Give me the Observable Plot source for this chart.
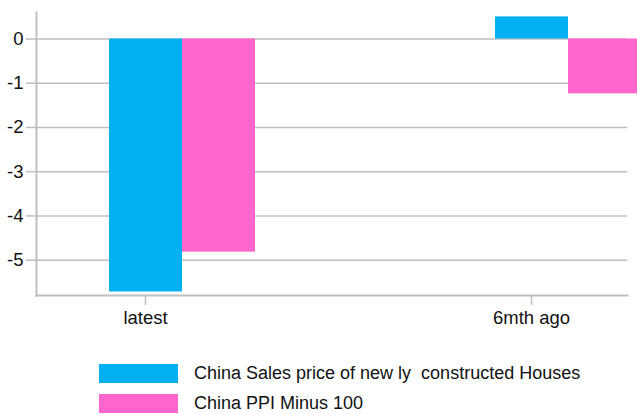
<!DOCTYPE html>
<html>
<head>
<meta charset="utf-8">
<script src="https://cdn.jsdelivr.net/npm/d3@7"></script>
<script src="https://cdn.jsdelivr.net/npm/@observablehq/plot@0.6"></script>
<style>
  html, body { margin: 0; padding: 0; background: #fff; overflow: hidden; }
  body { width: 637px; height: 414px; font-family: "Liberation Sans", Arial, sans-serif; }
  #chart svg { display: block; }
  .legend { position: absolute; left: 99px; top: 358px; font-size: 18px; color: #111; }
  .row { display: flex; align-items: center; height: 30px; }
  .sw { width: 79px; height: 19px; margin-right: 16px; }
</style>
</head>
<body>
<div id="chart"></div>
<div class="legend" id="legend"></div>
<script>
const categories = ["latest", "6mth ago"];
const seriesNames = ["China Sales price of new ly  constructed Houses", "China PPI Minus 100"];
const salesPrice = [-5.72, 0.5];
const ppiMinus100 = [-4.82, -1.24];
const yTicks = [0, -1, -2, -3, -4, -5];
const colors = ["#00b0f0", "#ff66cc"];

const dataA = categories.map((c, i) => ({cat: c, value: salesPrice[i]}));
const dataB = categories.map((c, i) => ({cat: c, value: ppiMinus100[i]}));

const grid = "#bfbfbf";
const chart = Plot.plot({
  width: 637,
  height: 340,
  marginLeft: 36,
  marginRight: 10,
  marginTop: 12,
  marginBottom: 45,
  style: {fontFamily: "'Liberation Sans', Arial, sans-serif", fontSize: "18.5px", color: "#111", background: "#fff"},
  x: {domain: categories, range: [-11, 761], paddingInner: 0.6218, paddingOuter: 0.3109},
  y: {domain: [-5.8, 0.6]},
  marks: [
    Plot.gridY(yTicks, {stroke: grid, strokeOpacity: 1, strokeWidth: 1.5}),
    Plot.barY(dataA, {x: "cat", y: "value", fill: colors[0], insetRight: 73}),
    Plot.barY(dataB, {x: "cat", y: "value", fill: colors[1], insetLeft: 73}),
    Plot.frame({anchor: "left", stroke: grid, strokeWidth: 2}),
    Plot.frame({anchor: "bottom", stroke: grid, strokeWidth: 2}),
    Plot.axisY(yTicks, {tickFormat: d => String(d), tickSize: 10, tickPadding: 3, stroke: grid, strokeWidth: 1.5, fill: "#111", label: null}),
    Plot.axisX({tickSize: 10, tickPadding: 5, stroke: grid, strokeWidth: 1.5, fill: "#111", label: null, dx: -37})
  ]
});
document.getElementById("chart").appendChild(chart);

const legend = document.getElementById("legend");
seriesNames.forEach((name, i) => {
  const row = document.createElement("div");
  row.className = "row";
  const sw = document.createElement("div");
  sw.className = "sw";
  sw.style.background = colors[i];
  const t = document.createElement("span");
  t.style.whiteSpace = "pre";
  t.textContent = name;
  row.appendChild(sw);
  row.appendChild(t);
  legend.appendChild(row);
});
</script>
</body>
</html>
